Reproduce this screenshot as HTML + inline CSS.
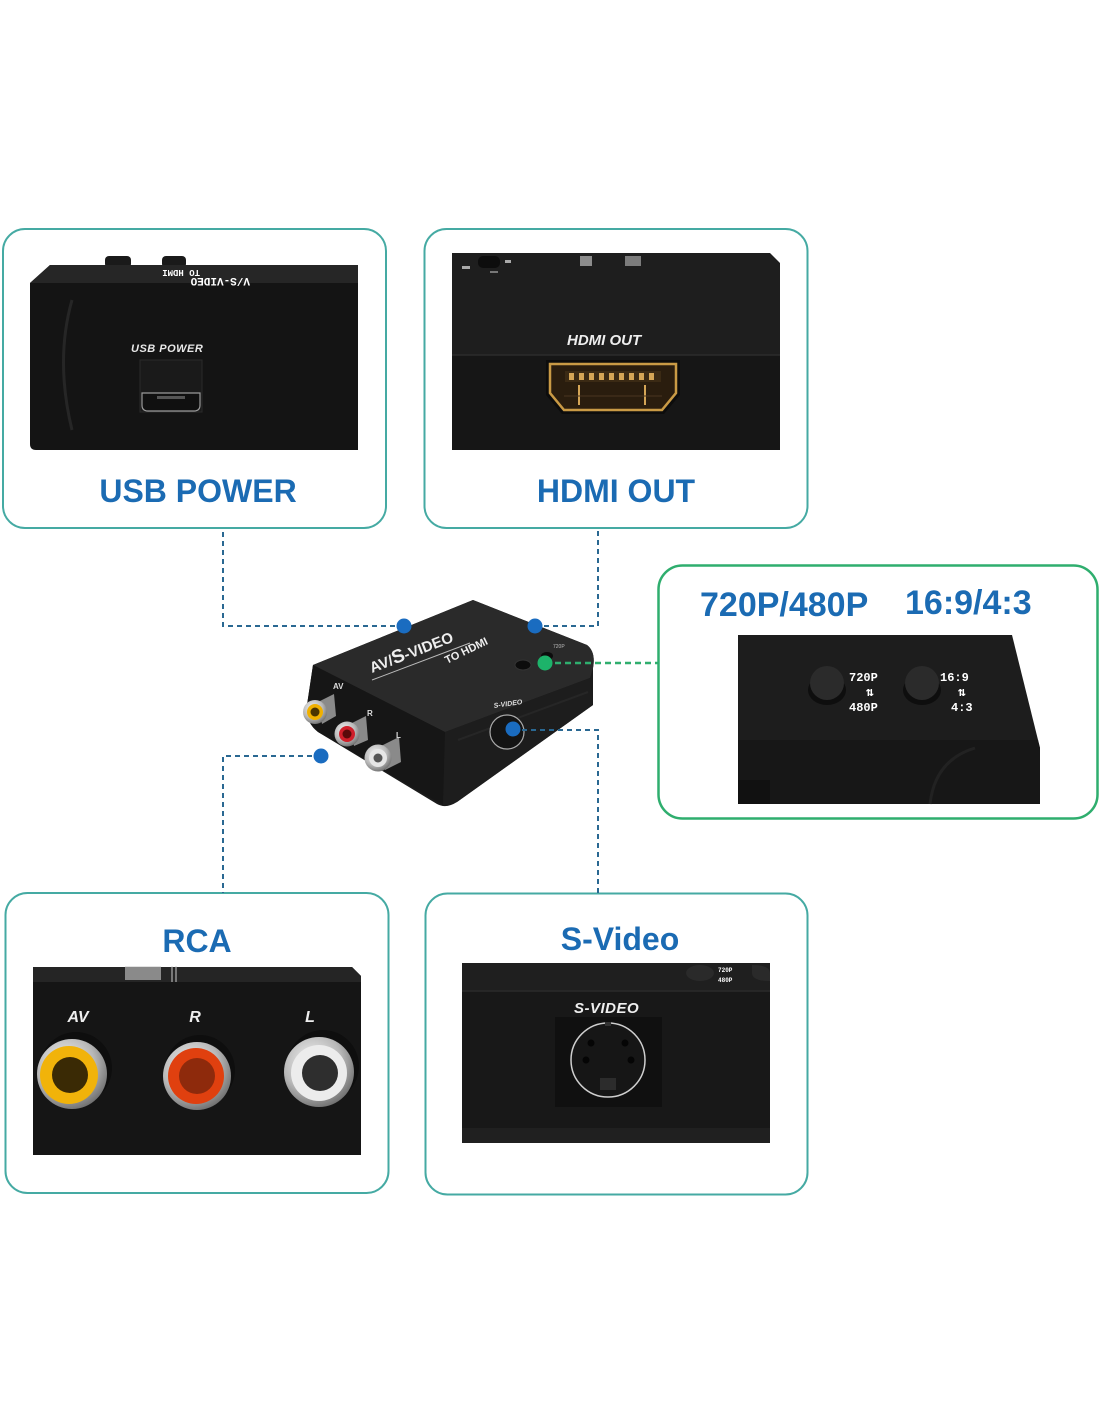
<!DOCTYPE html>
<html><head><meta charset="utf-8"><style>
html,body{margin:0;padding:0;background:#fff;}
svg{display:block;}
text{font-family:"Liberation Sans",Arial,sans-serif;}
.big{font-weight:bold;font-size:32px;fill:#1b6bb3;}
.mono{font-family:"Liberation Mono",monospace;font-weight:bold;fill:#fff;}
</style></head><body>
<svg width="1100" height="1422" viewBox="0 0 1100 1422" xmlns="http://www.w3.org/2000/svg">
<defs>
<radialGradient id="chrome" cx="40%" cy="35%" r="70%">
<stop offset="0" stop-color="#f4f4f4"/><stop offset="0.6" stop-color="#b8b8b8"/><stop offset="1" stop-color="#6a6a6a"/>
</radialGradient>
</defs>

<!-- Panel borders -->
<rect x="3" y="229" width="383" height="299" rx="22" fill="#fff" stroke="#45aaa3" stroke-width="2"/>
<rect x="424.5" y="229" width="383" height="299" rx="22" fill="#fff" stroke="#45aaa3" stroke-width="2"/>
<rect x="658.5" y="565.5" width="439" height="253" rx="24" fill="#fff" stroke="#2fae6e" stroke-width="2.5"/>
<rect x="5.5" y="893" width="383" height="300" rx="22" fill="#fff" stroke="#45aaa3" stroke-width="2"/>
<rect x="425.5" y="893.5" width="382" height="301" rx="22" fill="#fff" stroke="#45aaa3" stroke-width="2"/>

<!-- Panel 1: USB POWER -->
<rect x="105" y="256" width="26" height="12" rx="4" fill="#1a1a1a"/>
<rect x="162" y="256" width="24" height="12" rx="4" fill="#1a1a1a"/>
<path d="M50,265 L358,265 L358,450 L36,450 Q30,450 30,444 L30,283 Z" fill="#141414"/>
<path d="M50,265 L358,265 L358,283 L30,283 Z" fill="#262626"/>
<path d="M72,300 Q55,360 72,430" stroke="#262626" stroke-width="3" fill="none"/>
<text x="250" y="270" class="mono" font-size="11" transform="rotate(180 250 274)" fill="#ddd">V/S-VIDEO</text>
<text x="200" y="278" class="mono" font-size="9" transform="rotate(180 200 274)" fill="#ddd">TO HDMI</text>
<text x="131" y="352" font-size="11" font-weight="bold" font-style="italic" fill="#e8e8e8" letter-spacing="0.5">USB POWER</text>
<rect x="140" y="360" width="62" height="52" fill="#1a1a1a" stroke="#2a2a2a"/>
<path d="M142,393 L200,393 L200,405 Q200,411 194,411 L148,411 Q142,411 142,405 Z" fill="#101010" stroke="#9a9a9a" stroke-width="1.2"/>
<rect x="157" y="396" width="28" height="3" fill="#555"/>
<text x="198" y="502" class="big" text-anchor="middle">USB POWER</text>

<!-- Panel 2: HDMI OUT -->
<path d="M452,253 L770,253 L780,263 L780,450 L452,450 Z" fill="#1e1e1e"/>
<rect x="452" y="355" width="328" height="95" fill="#161616"/>
<line x1="452" y1="355" x2="780" y2="355" stroke="#2c2c2c" stroke-width="1.5"/>
<rect x="478" y="256" width="22" height="12" rx="5" fill="#0d0d0d"/>
<rect x="462" y="266" width="8" height="3" fill="#aaa"/><rect x="505" y="260" width="6" height="3" fill="#aaa"/><rect x="490" y="271" width="8" height="2" fill="#777"/>
<rect x="580" y="256" width="12" height="10" fill="#bbb" opacity="0.7"/><rect x="625" y="256" width="16" height="10" fill="#bbb" opacity="0.6"/>
<text x="567" y="345" font-size="15" font-weight="bold" font-style="italic" fill="#eee">HDMI OUT</text>
<path d="M546,360 L680,360 L680,395 L664,414 L562,414 L546,395 Z" fill="#0c0c0c"/>
<path d="M550,364 L676,364 L676,393 L662,410 L564,410 L550,393 Z" fill="#2a1d0e" stroke="#c99a45" stroke-width="2.5"/>
<rect x="565" y="371" width="96" height="11" fill="#3b2a14"/>
<g fill="#d4a556">
<rect x="569" y="373" width="5" height="7"/><rect x="579" y="373" width="5" height="7"/><rect x="589" y="373" width="5" height="7"/><rect x="599" y="373" width="5" height="7"/><rect x="609" y="373" width="5" height="7"/><rect x="619" y="373" width="5" height="7"/><rect x="629" y="373" width="5" height="7"/><rect x="639" y="373" width="5" height="7"/><rect x="649" y="373" width="5" height="7"/>
<rect x="578" y="385" width="2" height="20"/><rect x="644" y="385" width="2" height="20"/>
</g>
<line x1="564" y1="396" x2="662" y2="396" stroke="#4a3520" stroke-width="1"/>
<text x="616" y="502" class="big" text-anchor="middle">HDMI OUT</text>

<!-- Panel 3 -->
<text x="700" y="616" font-size="34" font-weight="bold" fill="#1b6bb3">720P/480P</text>
<text x="905" y="614" font-size="34" font-weight="bold" fill="#1b6bb3">16:9/4:3</text>
<path d="M738,635 L1012,635 L1040,748 L1040,804 L738,804 Z" fill="#1d1d1d"/>
<path d="M738,740 L1038,740 L1040,748 L1040,804 L738,804 Z" fill="#171717"/>
<path d="M930,804 Q935,760 975,748" stroke="#222" stroke-width="3" fill="none"/>
<rect x="738" y="780" width="32" height="24" fill="#111"/>
<ellipse cx="827" cy="690" rx="19" ry="15" fill="#0e0e0e"/>
<circle cx="827" cy="683" r="17" fill="#2b2b2b"/>
<ellipse cx="922" cy="690" rx="19" ry="15" fill="#0e0e0e"/>
<circle cx="922" cy="683" r="17" fill="#2b2b2b"/>
<text x="849" y="681" class="mono" font-size="12">720P</text>
<text x="866" y="696" class="mono" font-size="13">⇅</text>
<text x="849" y="711" class="mono" font-size="12">480P</text>
<text x="940" y="681" class="mono" font-size="12">16:9</text>
<text x="958" y="696" class="mono" font-size="13">⇅</text>
<text x="951" y="711" class="mono" font-size="12">4:3</text>

<!-- Panel 4: RCA -->
<text x="197" y="952" class="big" text-anchor="middle">RCA</text>
<path d="M33,967 L352,967 L361,976 L361,1155 L33,1155 Z" fill="#151515"/>
<path d="M33,967 L352,967 L361,976 L361,982 L33,982 Z" fill="#252525"/>
<rect x="125" y="966" width="36" height="14" fill="#cfcfcf" opacity="0.6"/>
<line x1="172" y1="966" x2="172" y2="982" stroke="#ccc" stroke-width="1"/>
<line x1="176" y1="966" x2="176" y2="982" stroke="#ccc" stroke-width="1"/>
<text x="78" y="1022" font-size="16" font-weight="bold" font-style="italic" fill="#eee" text-anchor="middle">AV</text>
<text x="195" y="1022" font-size="16" font-weight="bold" font-style="italic" fill="#eee" text-anchor="middle">R</text>
<text x="310" y="1022" font-size="16" font-weight="bold" font-style="italic" fill="#eee" text-anchor="middle">L</text>
<g>
<circle cx="76" cy="1068" r="36" fill="#0e0e0e"/>
<circle cx="72" cy="1074" r="35" fill="url(#chrome)"/>
<circle cx="69" cy="1075" r="29" fill="#f1b30a"/>
<circle cx="70" cy="1075" r="18" fill="#3a2a05"/>
<circle cx="200" cy="1070" r="35" fill="#0e0e0e"/>
<circle cx="197" cy="1076" r="34" fill="url(#chrome)"/>
<circle cx="196" cy="1076" r="28" fill="#e0400f"/>
<circle cx="197" cy="1076" r="18" fill="#8e2a0c"/>
<circle cx="323" cy="1066" r="36" fill="#0e0e0e"/>
<circle cx="319" cy="1072" r="35" fill="url(#chrome)"/>
<circle cx="319" cy="1073" r="28" fill="#ececec"/>
<circle cx="320" cy="1073" r="18" fill="#2e2e2e"/>
</g>

<!-- Panel 5: S-Video -->
<text x="620" y="950" class="big" text-anchor="middle">S-Video</text>
<rect x="462" y="963" width="308" height="180" fill="#181818"/>
<rect x="462" y="963" width="308" height="28" fill="#1f1f1f"/>
<line x1="462" y1="991" x2="770" y2="991" stroke="#2a2a2a" stroke-width="1.5"/>
<rect x="462" y="1128" width="308" height="15" fill="#202020"/>
<ellipse cx="700" cy="973" rx="14" ry="8" fill="#2a2a2a"/>
<path d="M752,965 Q770,965 770,973 L770,981 Q752,981 752,973 Z" fill="#2a2a2a"/>
<text x="718" y="972" class="mono" font-size="6" fill="#999">720P</text>
<text x="718" y="982" class="mono" font-size="6" fill="#999">480P</text>
<text x="574" y="1013" font-size="15" font-weight="bold" font-style="italic" fill="#eee" letter-spacing="0.5">S-VIDEO</text>
<rect x="555" y="1017" width="107" height="90" fill="#101010"/>
<circle cx="608" cy="1060" r="37" fill="#161616" stroke="#cfcfcf" stroke-width="1.5"/>
<g fill="#050505">
<circle cx="591" cy="1043" r="3.5"/><circle cx="625" cy="1043" r="3.5"/>
<circle cx="586" cy="1060" r="3.5"/><circle cx="631" cy="1060" r="3.5"/>
</g>
<rect x="600" y="1078" width="16" height="12" fill="#2c2c2c"/>
<rect x="605" y="1022" width="6" height="4" fill="#333"/>

<!-- Central device -->
<path d="M313,665 L473,600 L587,645 Q596,652 593,668 L593,705 L457,802 Q446,809 437,804 L318,732 Q305,722 307,705 Z" fill="#1b1b1b"/>
<path d="M313,665 L473,600 L587,645 Q596,652 593,668 L590,678 L445,732 Z" fill="#2a2a2a"/>
<path d="M313,665 L445,732 L443,805 L318,732 Q305,722 307,705 Z" fill="#161616"/>
<path d="M445,732 L590,678 L593,705 L457,802 L443,805 Z" fill="#1d1d1d"/>
<path d="M458,740 L588,692" stroke="#262626" stroke-width="2"/>
<text x="372" y="673" font-size="15" font-weight="bold" fill="#eee" transform="rotate(-21 372 673)">AV/<tspan font-size="19">S</tspan>-VIDEO</text>
<line x1="372" y1="680" x2="470" y2="643" stroke="#bbb" stroke-width="1"/>
<text x="447" y="664" font-size="11" font-weight="bold" fill="#eee" transform="rotate(-26 447 664)">TO HDMI</text>
<ellipse cx="523" cy="665" rx="8" ry="5" fill="#0c0c0c" stroke="#333"/>
<ellipse cx="547" cy="656" rx="6" ry="4" fill="#0c0c0c"/>
<text x="553" y="648" font-size="5" fill="#bbb">720P</text>
<text x="494" y="708" font-size="7" font-weight="bold" font-style="italic" fill="#ddd" transform="rotate(-8 494 708)">S-VIDEO</text>
<circle cx="507" cy="732" r="17" fill="#141414" stroke="#aaa" stroke-width="1.2"/>
<g>
<path d="M318,702 L334,694 L336,716 L322,724 Z" fill="#8a8a8a"/>
<circle cx="315" cy="712" r="12" fill="url(#chrome)"/>
<circle cx="315" cy="712" r="8" fill="#f0b000"/>
<circle cx="315" cy="712" r="4.5" fill="#4a3300"/>
<path d="M350,724 L366,716 L368,740 L354,746 Z" fill="#8a8a8a"/>
<circle cx="347" cy="734" r="12.5" fill="url(#chrome)"/>
<circle cx="347" cy="734" r="8" fill="#d01f2a"/>
<circle cx="347" cy="734" r="4.5" fill="#5a0a0a"/>
<path d="M381,746 L399,737 L401,762 L385,770 Z" fill="#8a8a8a"/>
<circle cx="378" cy="758" r="13.5" fill="url(#chrome)"/>
<circle cx="378" cy="758" r="9" fill="#e6e6e6"/>
<circle cx="378" cy="758" r="4.5" fill="#555"/>
</g>
<text x="333" y="689" font-size="8" font-weight="bold" fill="#ddd">AV</text>
<text x="367" y="716" font-size="8" font-weight="bold" fill="#ddd">R</text>
<text x="396" y="738" font-size="8" font-weight="bold" fill="#ddd">L</text>

<!-- Connectors (drawn over device) -->
<g fill="none" stroke="#2a6892" stroke-width="2" stroke-dasharray="5 4">
<path d="M404,626 L223,626 L223,530"/>
<path d="M535,626 L598,626 L598,530"/>
<path d="M321,756 L223,756 L223,893"/>
<path d="M513,730 L598,730 L598,893"/>
</g>
<path d="M545,663 L658,663" fill="none" stroke="#2fae6e" stroke-width="2.5" stroke-dasharray="6 4"/>

<!-- dots -->
<circle cx="404" cy="626" r="7.5" fill="#1a6cc0"/>
<circle cx="535" cy="626" r="7.5" fill="#1a6cc0"/>
<circle cx="321" cy="756" r="7.5" fill="#1a6cc0"/>
<circle cx="513" cy="729" r="7.5" fill="#1a6cc0"/>
<circle cx="545" cy="663" r="7.5" fill="#1db36a"/>
</svg>
</body></html>
